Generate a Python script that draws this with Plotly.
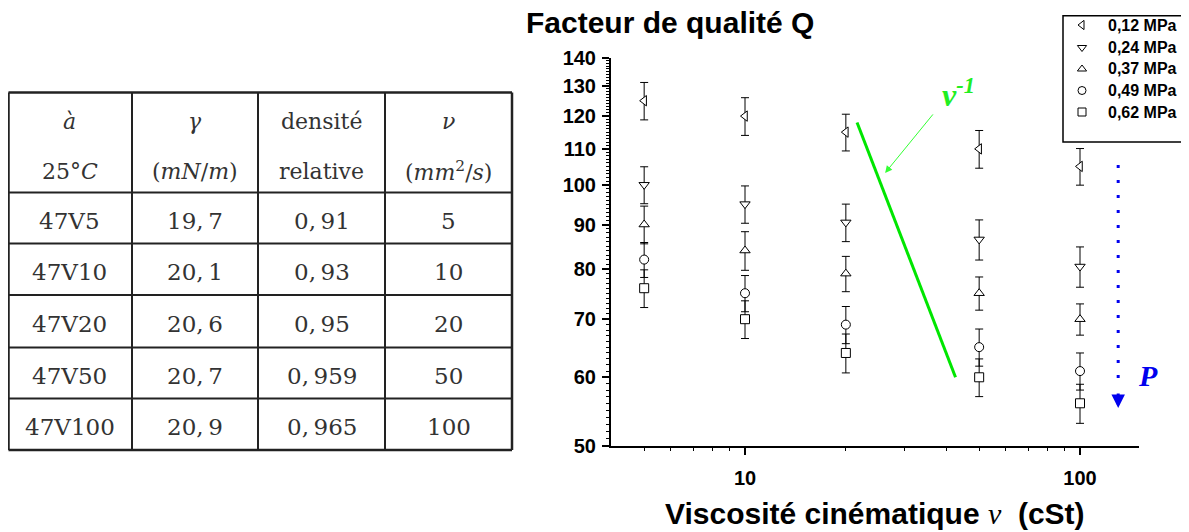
import numpy as np
import plotly.graph_objects as go

W, H = 1189, 532
OFF = 8                      # page body margin of the html page
FW, FH = W - OFF, H - OFF    # figure fills the window below/right of the body margin

# ---------------- data ----------------
viscosity = [5, 10, 20, 50, 100]
pressures = ["0,12 MPa", "0,24 MPa", "0,37 MPa", "0,49 MPa", "0,62 MPa"]
q_012 = [125, 120, 115, 110, 105]
q_024 = [100, 95, 90.5, 86.5, 80.5]
q_037 = [90, 84, 79, 75, 70]
q_049 = [82, 75, 69, 65, 61]
q_062 = [76, 70, 64, 60, 56]
err_012 = [6.2, 6.0, 5.6, 5.5, 5.1]
err_024 = [4.9, 4.7, 4.5, 4.6, 4.3]
err_037 = [4.5, 4.3, 3.7, 3.3, 2.9]
err_049 = [3.8, 3.6, 3.4, 3.2, 3.0]
err_062 = [3.8, 3.5, 3.3, 3.0, 2.9]
symbols = ["triangle-left", "triangle-down", "triangle-up", "circle", "square"]

guide_x = [21.6, 42.5]      # nu^-1 guide line
guide_y = [118, 60]
p_arrow_x = [130, 130]      # pressure direction arrow
p_arrow_y = [105.4, 58.5]

x_major = [10, 100]
x_minor = [5, 6, 7, 8, 9, 20, 30, 40, 50, 60, 70, 80, 90]
y_major = [50, 60, 70, 80, 90, 100, 110, 120, 130, 140]
y_minor = list(range(50, 141))

# table
tbl_header1 = ["<i>à</i>", "<i>γ</i>", "densité", "<i>ν</i>"]
tbl_header2 = ["25°<i>C</i>", "(<i>mN</i>/<i>m</i>)", "relative", "(<i>mm</i><sup>2</sup>/<i>s</i>)"]
tbl_fluid = ["47V5", "47V10", "47V20", "47V50", "47V100"]
tbl_gamma = ["19,\u20097", "20,\u20091", "20,\u20096", "20,\u20097", "20,\u20099"]
tbl_density = ["0,\u200991", "0,\u200993", "0,\u200995", "0,\u2009959", "0,\u2009965"]
tbl_nu = ["5", "10", "20", "50", "100"]

# ---------------- helpers (screen px -> paper) ----------------
def px(x):
    return (x - OFF) / FW

def py(y):
    return 1 - (y - OFF) / FH

SANS = "Liberation Sans, Arial, sans-serif"
SERIF = "Liberation Serif, Times New Roman, serif"
TSERIF = "DejaVu Serif, serif"

fig = go.Figure()

series = [q_012, q_024, q_037, q_049, q_062]
errors = [err_012, err_024, err_037, err_049, err_062]
for name, q, e, s in zip(pressures, series, errors, symbols):
    fig.add_trace(go.Scatter(
        x=viscosity, y=q, mode="markers", name=name, showlegend=False,
        marker=dict(symbol=s, size=9, color="white", line=dict(color="black", width=1)),
        error_y=dict(type="data", array=e, visible=True, color="black", thickness=1, width=4),
    ))

# nu^-1 guide line
fig.add_trace(go.Scatter(x=guide_x, y=guide_y, mode="lines", showlegend=False,
                         line=dict(color="#00e600", width=3)))
# pressure dotted arrow
fig.add_trace(go.Scatter(x=p_arrow_x, y=p_arrow_y, mode="lines", showlegend=False,
                         line=dict(color="#0000ee", width=3, dash="3px,12px")))

# empty traces that carry the minor-tick overlay axes
fig.add_trace(go.Scatter(x=[], y=[], xaxis="x", yaxis="y3", showlegend=False))
fig.add_trace(go.Scatter(x=[], y=[], xaxis="x3", yaxis="y", showlegend=False))

# legend swatches on a pixel overlay axis
leg_y = [25, 47.5, 69, 90.5, 112]
for s, yy in zip(symbols, leg_y):
    fig.add_trace(go.Scatter(x=[1082], y=[yy], xaxis="x2", yaxis="y2", mode="markers",
                             showlegend=False,
                             marker=dict(symbol=s, size=8, color="white",
                                         line=dict(color="black", width=1))))

annotations = []
shapes = []

# legend box and texts
shapes.append(dict(type="rect", xref="paper", yref="paper", x0=px(1063), x1=px(1186),
                   y0=py(142), y1=py(15.7), line=dict(color="black", width=1.5)))
for name, yy in zip(pressures, leg_y):
    annotations.append(dict(xref="paper", yref="paper", x=px(1106), y=py(yy), text=name,
                            showarrow=False, xanchor="left", yanchor="middle",
                            font=dict(family=SANS, size=16, color="black", weight="bold")))

# titles
annotations.append(dict(xref="paper", yref="paper", x=px(670), y=py(23), text="Facteur de qualité Q",
                        showarrow=False, xanchor="center", yanchor="middle",
                        font=dict(family=SANS, size=30, color="black", weight="bold")))
annotations.append(dict(xref="paper", yref="paper", x=px(875), y=py(513),
                        text="Viscosité cinématique <span style='font-family:Liberation Serif;font-weight:normal'><i>ν</i></span>  (cSt)",
                        showarrow=False, xanchor="center", yanchor="middle",
                        font=dict(family=SANS, size=30, color="black", weight="bold")))

# green label and arrow
annotations.append(dict(xref="paper", yref="paper", x=px(958), y=py(93),
                        text="<b><i>ν</i></b><sup><b><i>-1</i></b></sup>",
                        showarrow=False, xanchor="center", yanchor="middle",
                        font=dict(family=SERIF, size=32, color="#22ee22")))
annotations.append(dict(x=np.log10(26.2), y=np.log10(103.2), xref="x", yref="y", text="",
                        showarrow=True, ax=49, ay=-60, arrowhead=2, arrowsize=1.4,
                        arrowwidth=1, arrowcolor="#33ff33"))
# pressure arrow head and P label
annotations.append(dict(x=np.log10(130), y=np.log10(55.3), xref="x", yref="y", text="",
                        showarrow=True, ax=0, ay=-16, arrowhead=2, arrowsize=0.9,
                        arrowwidth=3, arrowcolor="#0000ee"))
annotations.append(dict(xref="paper", yref="paper", x=px(1148), y=py(375), text="<b><i>P</i></b>",
                        showarrow=False, xanchor="center", yanchor="middle",
                        font=dict(family=SERIF, size=30, color="#0000ee")))

# ---------------- table ----------------
col_x = [8.5, 132, 258, 385, 512]
row_y = [92.5, 192.5, 243.5, 295, 347.5, 398.5, 450]
for i, x in enumerate(col_x):
    w = 2.5 if i in (0, len(col_x) - 1) else 2
    shapes.append(dict(type="line", xref="paper", yref="paper", x0=px(x), x1=px(x),
                       y0=py(row_y[0]), y1=py(row_y[-1]), line=dict(color="#222", width=w)))
for j, y in enumerate(row_y):
    w = 2.5 if j in (0, len(row_y) - 1) else 2
    shapes.append(dict(type="line", xref="paper", yref="paper", x0=px(col_x[0]), x1=px(col_x[-1]),
                       y0=py(y), y1=py(y), line=dict(color="#222", width=w)))

col_c = [(a + b) / 2 for a, b in zip([7, 132, 258, 385], col_x[1:])]
for c, t1, t2 in zip(col_c, tbl_header1, tbl_header2):
    annotations.append(dict(xref="paper", yref="paper", x=px(c), y=py(122), text=t1, showarrow=False,
                            xanchor="center", yanchor="middle",
                            font=dict(family=TSERIF, size=22, color="#333")))
    annotations.append(dict(xref="paper", yref="paper", x=px(c), y=py(171), text=t2, showarrow=False,
                            xanchor="center", yanchor="middle",
                            font=dict(family=TSERIF, size=22, color="#333")))
row_c = [221, 272, 324, 376, 427]
for r, cells in zip(row_c, zip(tbl_fluid, tbl_gamma, tbl_density, tbl_nu)):
    for c, t in zip(col_c, cells):
        annotations.append(dict(xref="paper", yref="paper", x=px(c), y=py(r), text=t, showarrow=False,
                                xanchor="center", yanchor="middle",
                                font=dict(family=TSERIF, size=23, color="#333")))

tickfont = dict(family=SANS, size=20, color="black", weight="bold")
xrange_ = [0.6, np.log10(150)]
yrange_ = [np.log10(50), np.log10(140)]
xdom = [px(611), px(1139)]
ydom = [py(446), py(58)]
fig.update_layout(
    width=FW, height=FH, autosize=False,
    margin=dict(l=0, r=0, t=0, b=0, pad=0, autoexpand=False),
    paper_bgcolor="white", plot_bgcolor="rgba(0,0,0,0)",
    showlegend=False,
    xaxis=dict(type="log", range=xrange_, domain=xdom, automargin=False,
               anchor="y", showline=True, linecolor="black", linewidth=2,
               showgrid=False, zeroline=False,
               tickmode="array", tickvals=x_major, ticktext=[str(v) for v in x_major],
               ticks="outside", ticklen=7, tickwidth=1.5, tickcolor="black",
               tickfont=tickfont, ticklabelstandoff=6),
    yaxis=dict(type="log", range=yrange_, domain=ydom, automargin=False,
               anchor="x", showline=True, linecolor="black", linewidth=2,
               showgrid=False, zeroline=False,
               tickmode="array", tickvals=y_major, ticktext=[str(v) for v in y_major],
               ticks="outside", ticklen=7, tickwidth=1.5, tickcolor="black",
               tickfont=tickfont, ticklabelstandoff=2),
    xaxis3=dict(type="log", range=xrange_, overlaying="x", anchor="y", side="bottom",
                automargin=False, showline=False, showgrid=False, zeroline=False,
                tickmode="array", tickvals=x_minor, ticks="outside", ticklen=4,
                tickwidth=1, tickcolor="black", showticklabels=False),
    yaxis3=dict(type="log", range=yrange_, overlaying="y", anchor="x", side="left",
                automargin=False, showline=False, showgrid=False, zeroline=False,
                tickmode="array", tickvals=y_minor, ticks="outside", ticklen=4,
                tickwidth=1, tickcolor="black", showticklabels=False),
    xaxis2=dict(range=[OFF, OFF + FW], domain=[0, 1], anchor="y2", visible=False,
                fixedrange=True, automargin=False),
    yaxis2=dict(range=[OFF + FH, OFF], domain=[0, 1], anchor="x2", visible=False,
                fixedrange=True, automargin=False),
    annotations=annotations,
    shapes=shapes,
)

fig.write_html("out.html")
